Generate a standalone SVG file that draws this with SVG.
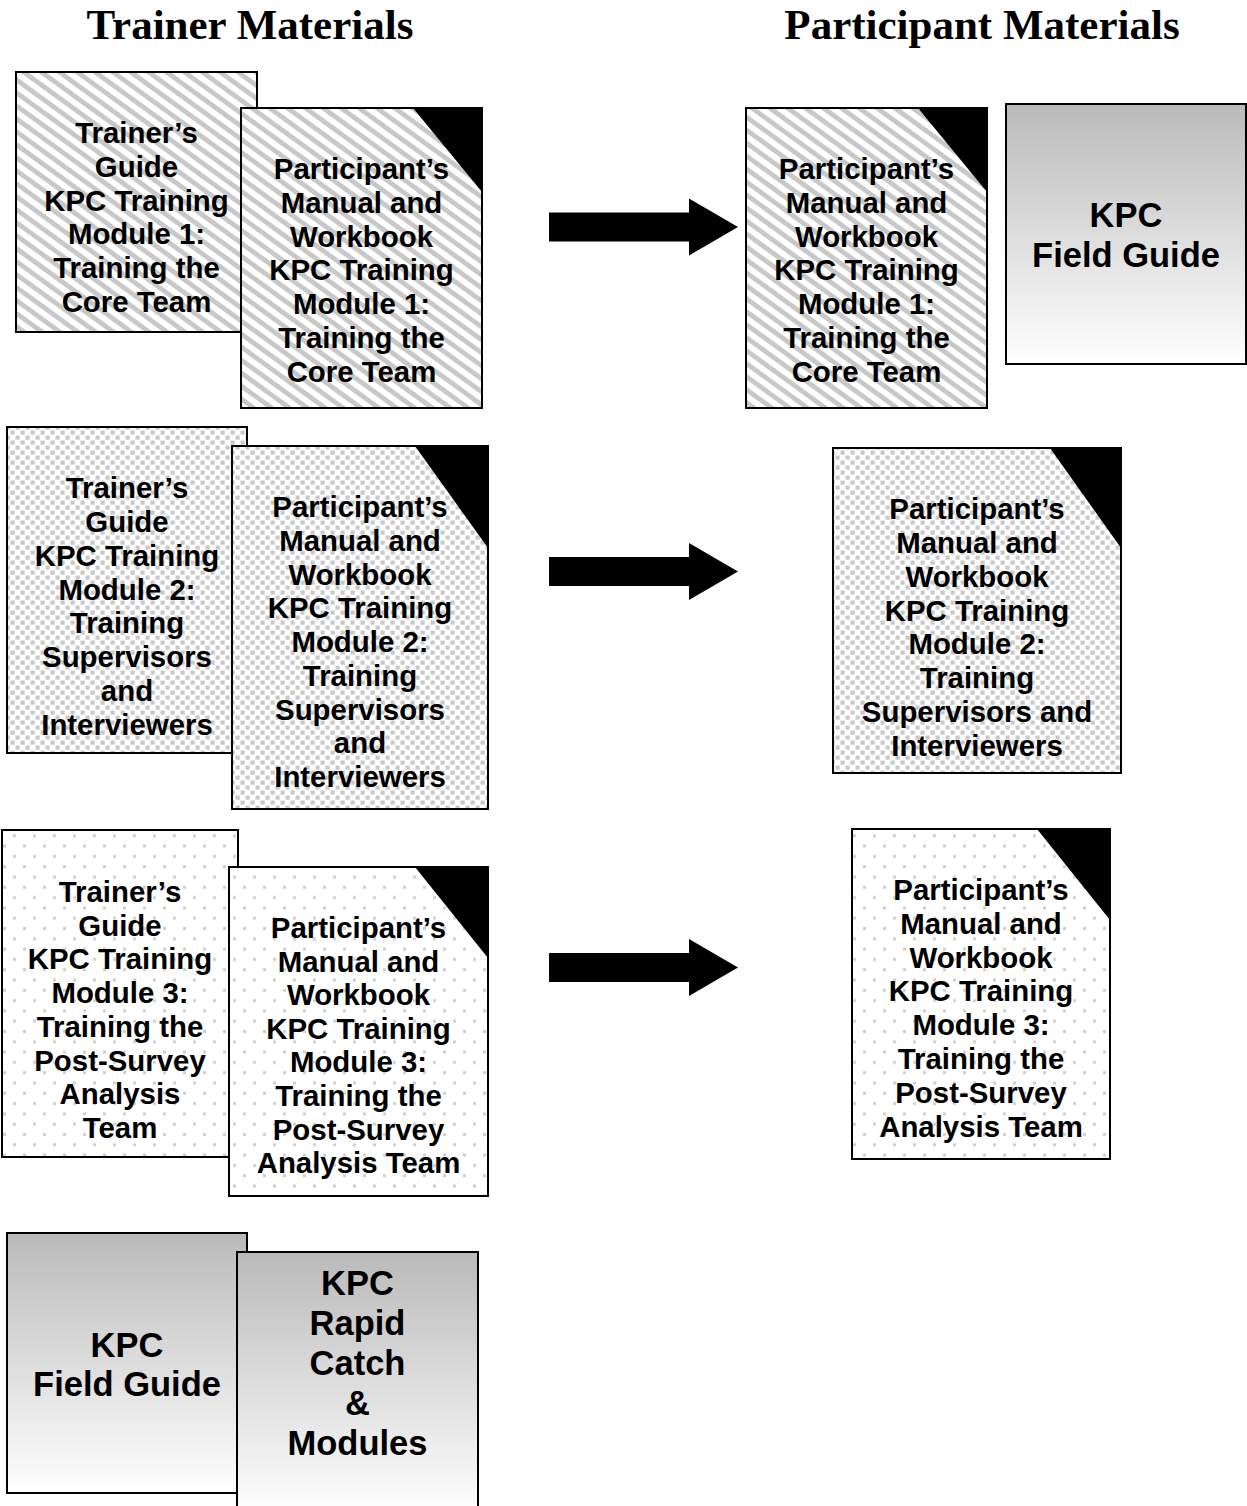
<svg xmlns="http://www.w3.org/2000/svg" width="1247" height="1506" viewBox="0 0 1247 1506">
<defs>
<pattern id="stripes" patternUnits="userSpaceOnUse" width="20" height="10.5" patternTransform="rotate(36)">
<rect width="20" height="10.5" fill="#ffffff"/>
<rect y="0" width="20" height="4.8" fill="#c8c8c8"/>
</pattern>
<pattern id="dotted" patternUnits="userSpaceOnUse" width="10" height="10">
<rect width="10" height="10" fill="#ffffff"/>
<rect x="0.5" y="0.5" width="4.2" height="4.2" fill="#c9c9c9"/>
<rect x="5.5" y="5.5" width="4.2" height="4.2" fill="#c9c9c9"/>
</pattern>
<pattern id="sparse" patternUnits="userSpaceOnUse" width="20" height="20.6">
<rect width="20" height="20.6" fill="#ffffff"/>
<rect x="3" y="0" width="3" height="3" fill="#d0d0d0"/>
<rect x="13" y="10.3" width="3" height="3" fill="#d0d0d0"/>
</pattern>
<linearGradient id="grad" x1="0" y1="0" x2="0" y2="1">
<stop offset="0" stop-color="#bababa"/>
<stop offset="1" stop-color="#ffffff"/>
</linearGradient>
</defs>
<style>
.box{stroke:#000;stroke-width:2}
.s{fill:url(#stripes)}
.d{fill:url(#dotted)}
.p{fill:url(#sparse)}
.g{fill:url(#grad)}
.corner{fill:#000}
.t{font-family:"Liberation Sans",Arial,sans-serif;font-weight:bold;font-size:29.4px;fill:#000;text-anchor:middle}
.tb{font-family:"Liberation Sans",Arial,sans-serif;font-weight:bold;font-size:34.5px;fill:#000;text-anchor:middle}
.h{font-family:"Liberation Serif","Times New Roman",serif;font-weight:bold;font-size:43px;fill:#000;text-anchor:middle}
.arrow{fill:#000}
</style>

<g id="headers">
<text class="h" x="250" y="39">Trainer Materials</text>
<text class="h" x="982" y="39">Participant Materials</text>
</g>

<g id="trainer1">
<rect class="box s" x="16" y="72" width="241" height="260"/>
<text class="t"><tspan x="136.5" y="143">Trainer’s</tspan><tspan x="136.5" y="176.8">Guide</tspan><tspan x="136.5" y="210.6">KPC Training</tspan><tspan x="136.5" y="244.4">Module 1:</tspan><tspan x="136.5" y="278.2">Training the</tspan><tspan x="136.5" y="312">Core Team</tspan></text>
</g>
<g id="participant1-left">
<rect class="box s" x="241" y="108" width="241" height="300"/>
<polygon class="corner" points="413,108 482,108 482,192"/>
<text class="t"><tspan x="361.5" y="179">Participant’s</tspan><tspan x="361.5" y="212.8">Manual and</tspan><tspan x="361.5" y="246.6">Workbook</tspan><tspan x="361.5" y="280.4">KPC Training</tspan><tspan x="361.5" y="314.2">Module 1:</tspan><tspan x="361.5" y="348">Training the</tspan><tspan x="361.5" y="381.8">Core Team</tspan></text>
</g>
<g id="participant1-right">
<rect class="box s" x="746" y="108" width="241" height="300"/>
<polygon class="corner" points="918,108 987,108 987,192"/>
<text class="t"><tspan x="866.5" y="179">Participant’s</tspan><tspan x="866.5" y="212.8">Manual and</tspan><tspan x="866.5" y="246.6">Workbook</tspan><tspan x="866.5" y="280.4">KPC Training</tspan><tspan x="866.5" y="314.2">Module 1:</tspan><tspan x="866.5" y="348">Training the</tspan><tspan x="866.5" y="381.8">Core Team</tspan></text>
</g>
<g id="fieldguide-right">
<rect class="box g" x="1006" y="104" width="240" height="260"/>
<text class="tb"><tspan x="1126" y="227">KPC</tspan><tspan x="1126" y="267">Field Guide</tspan></text>
</g>

<g id="trainer2">
<rect class="box d" x="7" y="427" width="240" height="326"/>
<text class="t"><tspan x="127" y="498">Trainer’s</tspan><tspan x="127" y="531.9">Guide</tspan><tspan x="127" y="565.7">KPC Training</tspan><tspan x="127" y="599.6">Module 2:</tspan><tspan x="127" y="633.4">Training</tspan><tspan x="127" y="667.3">Supervisors</tspan><tspan x="127" y="701.1">and</tspan><tspan x="127" y="735">Interviewers</tspan></text>
</g>
<g id="participant2-left">
<rect class="box d" x="232" y="446" width="256" height="363"/>
<polygon class="corner" points="415,446 488,446 488,548"/>
<text class="t"><tspan x="360" y="517">Participant’s</tspan><tspan x="360" y="550.8">Manual and</tspan><tspan x="360" y="584.5">Workbook</tspan><tspan x="360" y="618.3">KPC Training</tspan><tspan x="360" y="652">Module 2:</tspan><tspan x="360" y="685.8">Training</tspan><tspan x="360" y="719.5">Supervisors</tspan><tspan x="360" y="753.3">and</tspan><tspan x="360" y="787">Interviewers</tspan></text>
</g>
<g id="participant2-right">
<rect class="box d" x="833" y="448" width="288" height="325"/>
<polygon class="corner" points="1050,448 1121,448 1121,548"/>
<text class="t"><tspan x="977" y="519">Participant’s</tspan><tspan x="977" y="552.9">Manual and</tspan><tspan x="977" y="586.7">Workbook</tspan><tspan x="977" y="620.6">KPC Training</tspan><tspan x="977" y="654.4">Module 2:</tspan><tspan x="977" y="688.3">Training</tspan><tspan x="977" y="722.1">Supervisors and</tspan><tspan x="977" y="756">Interviewers</tspan></text>
</g>

<g id="trainer3">
<rect class="box p" x="2" y="830" width="236" height="327"/>
<text class="t"><tspan x="120" y="902">Trainer’s</tspan><tspan x="120" y="935.7">Guide</tspan><tspan x="120" y="969.4">KPC Training</tspan><tspan x="120" y="1003.1">Module 3:</tspan><tspan x="120" y="1036.8">Training the</tspan><tspan x="120" y="1070.5">Post-Survey</tspan><tspan x="120" y="1104.2">Analysis</tspan><tspan x="120" y="1138">Team</tspan></text>
</g>
<g id="participant3-left">
<rect class="box p" x="229" y="867" width="259" height="329"/>
<polygon class="corner" points="415,867 488,867 488,958"/>
<text class="t"><tspan x="358.5" y="938">Participant’s</tspan><tspan x="358.5" y="971.6">Manual and</tspan><tspan x="358.5" y="1005.2">Workbook</tspan><tspan x="358.5" y="1038.8">KPC Training</tspan><tspan x="358.5" y="1072.4">Module 3:</tspan><tspan x="358.5" y="1106">Training the</tspan><tspan x="358.5" y="1139.6">Post-Survey</tspan><tspan x="358.5" y="1173.2">Analysis Team</tspan></text>
</g>
<g id="participant3-right">
<rect class="box p" x="852" y="829" width="258" height="330"/>
<polygon class="corner" points="1037,829 1110,829 1110,920"/>
<text class="t"><tspan x="981" y="900">Participant’s</tspan><tspan x="981" y="933.8">Manual and</tspan><tspan x="981" y="967.6">Workbook</tspan><tspan x="981" y="1001.4">KPC Training</tspan><tspan x="981" y="1035.2">Module 3:</tspan><tspan x="981" y="1069">Training the</tspan><tspan x="981" y="1102.8">Post-Survey</tspan><tspan x="981" y="1136.6">Analysis Team</tspan></text>
</g>

<g id="fieldguide-left">
<rect class="box g" x="7" y="1233" width="240" height="260"/>
<text class="tb"><tspan x="127" y="1357">KPC</tspan><tspan x="127" y="1396">Field Guide</tspan></text>
</g>
<g id="rapidcatch">
<rect class="box g" x="237" y="1252" width="241" height="262"/>
<text class="tb"><tspan x="357.5" y="1295">KPC</tspan><tspan x="357.5" y="1335">Rapid</tspan><tspan x="357.5" y="1375">Catch</tspan><tspan x="357.5" y="1415">&amp;</tspan><tspan x="357.5" y="1455">Modules</tspan></text>
</g>

<g id="connectors">
<polygon class="arrow" points="549,212.5 689,212.5 689,198.5 738,227 689,255.5 689,241.5 549,241.5"/>
<polygon class="arrow" points="549,557 689,557 689,543 738,571.5 689,600 689,586 549,586"/>
<polygon class="arrow" points="549,953 689,953 689,939 738,967.5 689,996 689,982 549,982"/>
</g>
</svg>
